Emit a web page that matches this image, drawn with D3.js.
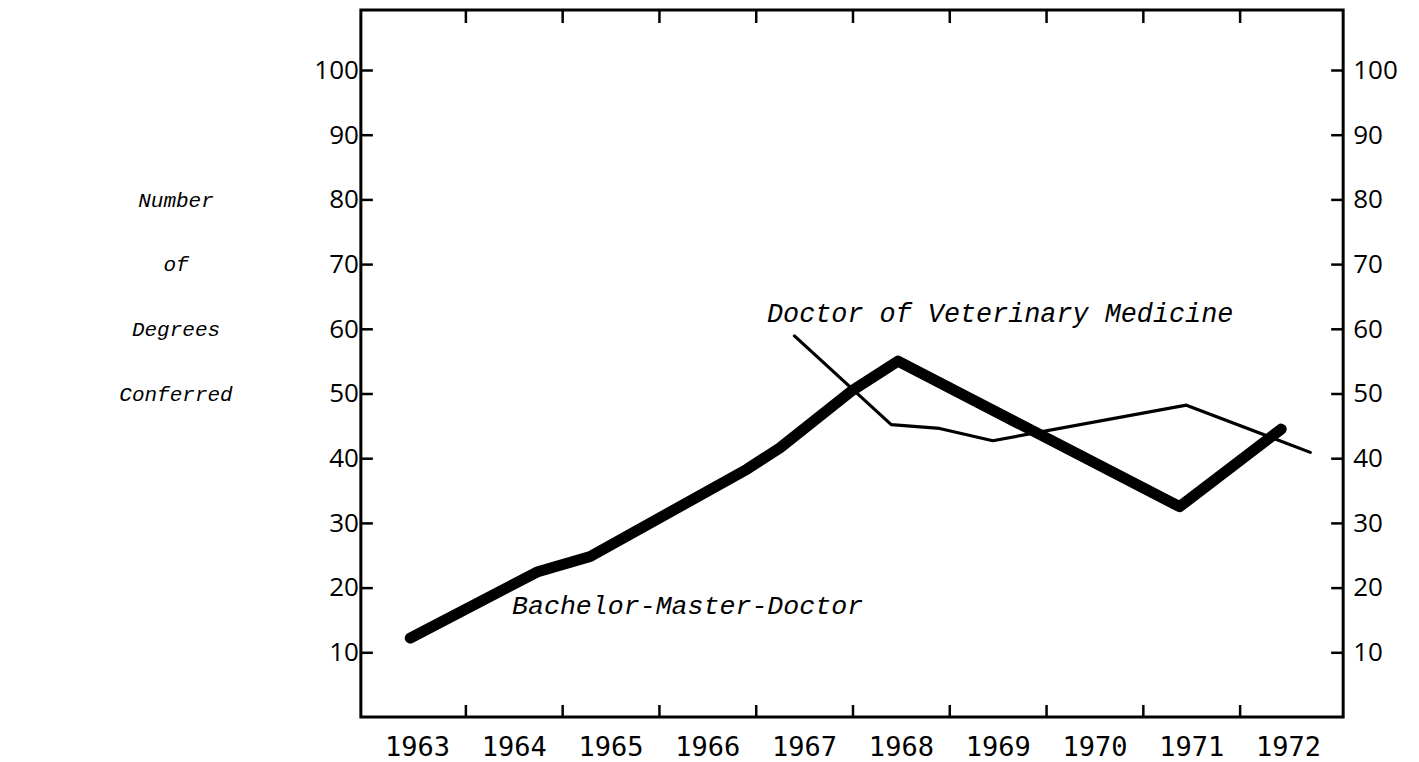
<!DOCTYPE html>
<html>
<head>
<meta charset="utf-8">
<script src="https://cdn.jsdelivr.net/npm/d3@7"></script>
<style>
  body { margin: 0; background: #fff; }
  svg { display: block; }
</style>
</head>
<body>
<svg id="chart" width="1419" height="762"></svg>
<script>
// tick labels
const years = [1963, 1964, 1965, 1966, 1967, 1968, 1969, 1970, 1971, 1972];
const yearBounds = [1963.5, 1964.5, 1965.5, 1966.5, 1967.5, 1968.5, 1969.5, 1970.5, 1971.5];
const valueTicks = [10, 20, 30, 40, 50, 60, 70, 80, 90, 100];
const titleLines = ['Number', 'of', 'Degrees', 'Conferred'];
const titleRows = [80, 70, 60, 50];

// Bachelor-Master-Doctor (thick line)
const bmdYears = [1962.93, 1964.24, 1964.79, 1966.41, 1966.75, 1967.5, 1967.97, 1970.88, 1971.93];
const bmdValues = [12.2, 22.4, 24.8, 38.3, 41.6, 50.5, 55.0, 32.5, 44.5];

// Doctor of Veterinary Medicine (thin line)
const dvmYears = [1966.9, 1967.9, 1968.4, 1968.95, 1970.95, 1972.23];
const dvmValues = [58.9, 45.2, 44.6, 42.7, 48.2, 40.9];

const svg = d3.select('#chart');

const x = d3.scaleLinear().domain([1963, 1972]).range([417, 1288]);
const y = d3.scaleLinear().domain([0, 100]).range([717, 70]);

const frameLeft = x(1962.42);
const frameRight = x(1972.57);
const frameTop = 10;
const frameBottom = y(0);

const axisFont = '"Open Sans", "DejaVu Sans", sans-serif';
const yearFont = '"DejaVu Sans Mono", monospace';
const noteFont = '"Liberation Mono", "Courier New", monospace';

// frame
svg.append('path')
  .attr('d', `M${frameLeft},${frameTop}L${frameRight},${frameTop}L${frameRight},${frameBottom}L${frameLeft},${frameBottom}Z`)
  .attr('fill', 'none')
  .attr('stroke', '#000')
  .attr('stroke-width', 3);

// left axis
const gLeft = svg.append('g')
  .attr('transform', `translate(${frameLeft},0)`)
  .call(d3.axisLeft(y).tickValues(valueTicks).tickSizeInner(-12).tickSizeOuter(0).tickPadding(2));

// right axis
const gRight = svg.append('g')
  .attr('transform', `translate(${frameRight},0)`)
  .call(d3.axisRight(y).tickValues(valueTicks).tickSizeInner(-12).tickSizeOuter(0).tickPadding(10));

// bottom ticks + year labels
const gBottom = svg.append('g')
  .attr('transform', `translate(0,${frameBottom})`)
  .call(d3.axisBottom(x).tickValues(yearBounds).tickSizeInner(-12).tickSizeOuter(0).tickFormat(''));

const gYears = svg.append('g')
  .attr('transform', `translate(0,${frameBottom})`)
  .call(d3.axisBottom(x).tickValues(years).tickSize(0).tickPadding(20).tickFormat(d3.format('d')));

// top ticks
const gTop = svg.append('g')
  .attr('transform', `translate(0,${frameTop})`)
  .call(d3.axisTop(x).tickValues(yearBounds).tickSizeInner(-13).tickSizeOuter(0).tickFormat(''));

[gLeft, gRight, gBottom, gYears, gTop].forEach((g) => {
  g.select('.domain').remove();
  g.selectAll('.tick line').attr('stroke', '#000').attr('stroke-width', 2.5);
});

[gLeft, gRight].forEach((g) => {
  g.selectAll('.tick text')
    .attr('fill', '#000')
    .style('font-family', axisFont)
    .style('font-size', '26px');
});

gYears.selectAll('.tick text')
  .attr('fill', '#000')
  .style('font-family', yearFont)
  .style('font-size', '27px');

// axis title
svg.append('g')
  .selectAll('text')
  .data(titleLines)
  .enter()
  .append('text')
  .attr('x', 176)
  .attr('y', (d, i) => y(titleRows[i]))
  .attr('dy', '0.35em')
  .attr('text-anchor', 'middle')
  .style('font-family', noteFont)
  .style('font-style', 'italic')
  .style('font-size', '21px')
  .text(d => d);

// lines
const line = d3.line()
  .x(d => x(d[0]))
  .y(d => y(d[1]));

svg.append('path')
  .datum(d3.zip(dvmYears, dvmValues))
  .attr('d', line)
  .attr('fill', 'none')
  .attr('stroke', '#000')
  .attr('stroke-width', 3.2)
  .attr('stroke-linejoin', 'round')
  .attr('stroke-linecap', 'round');

svg.append('path')
  .datum(d3.zip(bmdYears, bmdValues))
  .attr('d', line)
  .attr('fill', 'none')
  .attr('stroke', '#000')
  .attr('stroke-width', 11)
  .attr('stroke-linejoin', 'round')
  .attr('stroke-linecap', 'round');

// series labels
svg.append('text')
  .attr('x', 767)
  .attr('y', 322)
  .style('font-family', noteFont)
  .style('font-style', 'italic')
  .style('font-size', '26.8px')
  .text('Doctor of Veterinary Medicine');

svg.append('text')
  .attr('x', 512)
  .attr('y', 614)
  .style('font-family', noteFont)
  .style('font-style', 'italic')
  .style('font-size', '26.6px')
  .text('Bachelor-Master-Doctor');
</script>
</body>
</html>
